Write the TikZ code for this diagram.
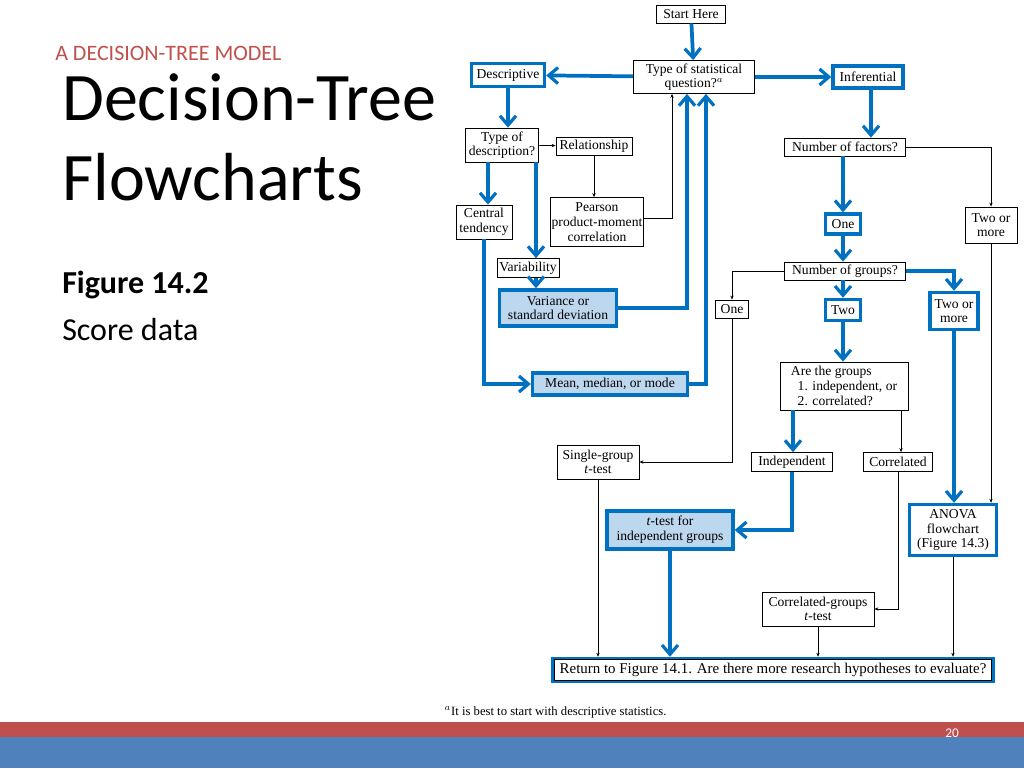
\documentclass[tikz,border=0pt]{standalone}
\usepackage{fontspec}
\setmainfont{Liberation Serif}
\newfontfamily\slide{Carlito}
\usetikzlibrary{arrows.meta}
\definecolor{bl}{RGB}{0,112,192}
\definecolor{lbl}{RGB}{189,215,238}
\definecolor{rd}{RGB}{192,80,77}
\definecolor{sb}{RGB}{79,129,189}
\tikzset{
  sz/.style 2 args={minimum width=#1*0.75pt, minimum height=#2*0.75pt},
  bx/.style={draw=black, line width=0.6pt, inner sep=1pt, align=center, font=\fontsize{10.2}{11}\selectfont},
  bbx/.style={bx, draw=bl, line width=2.6pt},
  fbx/.style={bbx, fill=lbl},
  barrow/.style={draw=bl, line width=2.8pt, -{Straight Barb[length=7pt,width=12pt,line width=2.4pt]}},
  karrow/.style={draw=black, line width=0.5pt, -{Stealth[length=3pt,width=2.5pt]}}
}
\begin{document}
\begin{tikzpicture}[x=0.75pt,y=-0.75pt]
\useasboundingbox (0,0) rectangle (1024,768);
\fill[white] (0,0) rectangle (1024,768);
\fill[rd] (0,722) rectangle (1024,737);
\fill[sb] (0,737) rectangle (1024,768);
\node[text=white, font=\slide\fontsize{10}{12}\selectfont] (pg) at (952,733) {20};
\node[anchor=base west, inner sep=0pt, text=rd, font=\slide\fontsize{16.5}{18}\selectfont] (sup) at (55,60) {A DECISION-TREE MODEL};
\node[anchor=base west, inner sep=0pt, font=\slide\fontsize{51}{60}\selectfont] (tt) at (62,120) {Decision-Tree};
\node[anchor=base west, inner sep=0pt, font=\slide\fontsize{51}{60}\selectfont] (tt2) at (62,200) {Flowcharts};
\node[anchor=base west, inner sep=0pt, font=\slide\bfseries\fontsize{24}{28}\selectfont] (fg) at (62,293) {Figure 14.2};
\node[anchor=base west, inner sep=0pt, font=\slide\fontsize{24}{28}\selectfont] (sd) at (62,340) {Score data};

\node[bx, sz={69}{18}] (start) at (691,14) {Start Here};
\node[bx, sz={121}{33}] (stat) at (694,77) {Type of statistical\\question?$^a$};
\node[bbx, sz={73}{23}] (desc) at (508,75) {Descriptive};
\node[bbx, sz={70}{22}] (inf) at (868,77) {Inferential};
\node[bx, sz={73}{34}] (tdesc) at (502,145) {Type of\\description?};
\node[bx, sz={76}{18}] (rel) at (594,146) {Relationship};
\node[bx, sz={88}{49}] (pear) at (597,222) {Pearson\\product-moment\\correlation};
\node[bx, sz={56}{34}] (cent) at (484,222) {Central\\tendency};
\node[bx, sz={62}{19}] (varb) at (528,268) {Variability};
\node[fbx, sz={117}{36}] (var) at (558,308) {Variance or\\standard deviation};
\node[fbx, sz={155}{22}] (mean) at (610,384) {Mean, median, or mode};
\node[bx, sz={121}{18}] (nf) at (845,147) {Number of factors?};
\node[bx, sz={52}{36}] (tm1) at (991,225) {Two or\\more};
\node[bbx, sz={35}{20}] (one1) at (843,224) {One};
\node[bx, sz={121}{18}] (ng) at (845,271) {Number of groups?};
\node[bx, sz={33}{18}] (one2) at (732,309) {One};
\node[bbx, sz={35}{21}] (two) at (843,310) {Two};
\node[bbx, sz={48}{37}] (tm2) at (954,311) {Two or\\more};
\node[bx, sz={128}{48}, align=left] (are) at (844,386) {Are the groups\\\ \ 1. independent, or\\\ \ 2. correlated?};
\node[bx, sz={82}{34}] (sg) at (598,462) {Single-group\\\textit{t}-test};
\node[bx, sz={81}{19}] (ind) at (792,462) {Independent};
\node[bx, sz={69}{19}] (cor) at (898,462) {Correlated};
\node[fbx, sz={126}{38}] (tti) at (670,530) {\textit{t}-test for\\independent groups};
\node[bbx, sz={87}{51}] (anova) at (953,530) {ANOVA\\flowchart\\(Figure 14.3)};
\node[bx, sz={112}{34}] (cgt) at (818,609) {Correlated-groups\\\textit{t}-test};
\node[bbx, sz={440}{23}, font=\fontsize{11.2}{12}\selectfont] (ret) at (773,670) {Return to Figure 14.1. Are there more research hypotheses to evaluate?};
\draw[line width=0.6pt] ([shift={(3,3)}]ret.north west) rectangle ([shift={(-3,-3)}]ret.south east);
\node[anchor=west, font=\fontsize{9.5}{10}\selectfont] (fn) at (440,712) {$^a$It is best to start with descriptive statistics.};

\coordinate (c1) at ([xshift=-10.5pt]tdesc.south);
\coordinate (c2) at ([xshift=2.25pt]inf.south);
\coordinate (c3) at ([xshift=-38.25pt]are.south);
\coordinate (c4) at ([xshift=42.75pt]are.south);
\coordinate (c5) at ([xshift=25.5pt]tdesc.south);

% blue connectors
\draw[barrow] (start) -- (stat);
\draw[barrow] (stat) -- (desc);
\draw[barrow] (stat) -- (inf);
\draw[barrow] (desc) -- (tdesc.north -| desc);
\draw[barrow] (c1) -- (cent.north -| c1);
\draw[barrow] (c5) -- (varb.north -| c5);
\draw[barrow] (varb.south -| c5) -- (var.north -| c5);
\draw[barrow] (var.east) -| ([xshift=-5.25pt]stat.south);
\draw[barrow] (cent.south) |- (mean.west);
\draw[barrow] (mean.east) -| ([xshift=9pt]stat.south);
\draw[barrow] (c2) -- (nf.north -| c2);
\draw[barrow] (nf.south -| one1) -- (one1);
\draw[barrow] (one1) -- (ng.north -| one1);
\draw[barrow] (ng.south -| two) -- (two);
\draw[barrow] (ng.east) -| (tm2.north);
\draw[barrow] (two) -- (are.north -| two);
\draw[barrow] (c3) -- (ind.north -| c3);
\draw[barrow] (ind.south) |- (tti.east);
\draw[barrow] (tti) -- (ret.north -| tti);
\draw[barrow] (tm2) -- (anova.north -| tm2);
% black connectors
\draw[karrow] (tdesc) -- (rel);
\draw[karrow] (rel) -- (pear.north -| rel);
\draw[karrow] ([yshift=3pt]pear.east) -| ([xshift=-16.5pt]stat.south);
\draw[karrow] (nf.east) -| (tm1.north);
\draw[karrow] (tm1) -- (anova.north -| tm1);
\draw[karrow] (ng.west) -| (one2.north);
\draw[karrow] (one2.south) |- (sg.east);
\draw[karrow] (c4) -- (cor.north -| c4);
\draw[karrow] (cor.south) |- (cgt.east);
\draw[karrow] (sg) -- (ret.north -| sg);
\draw[karrow] (cgt) -- (ret.north -| cgt);
\draw[karrow] (anova) -- (ret.north -| anova);
\end{tikzpicture}
\end{document}
